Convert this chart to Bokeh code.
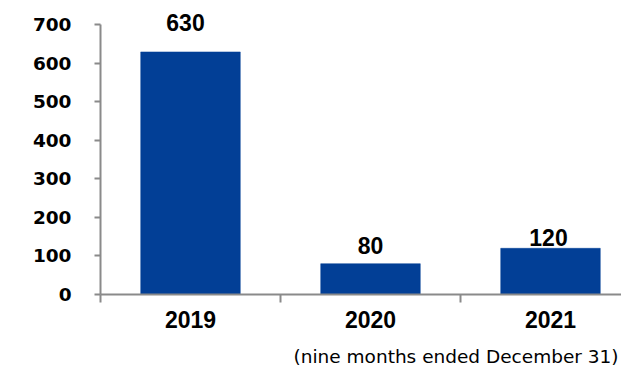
from bokeh.plotting import figure
from bokeh.models import (ColumnDataSource, Range1d, FixedTicker, LinearAxis,
                          Title)
from bokeh.core.properties import value
from bokeh.embed import file_html
from bokeh.resources import INLINE

# ---- data ----
categories = ["2019", "2020", "2021"]
amounts = [630, 80, 120]
value_labels = ["630", "80", "120"]
y_ticks = [0, 100, 200, 300, 400, 500, 600, 700]
subtitle = "(nine months ended December 31)"

# ---- style ----
BAR_COLOR = "#023f96"
AXIS_COLOR = "#8a8a8a"
label_dy = [-29, -18, -11]   # pixel nudges of value labels (style)
label_dx = [-5, 0, -2]

idx = list(range(len(categories)))
src = ColumnDataSource(dict(x=idx, top=amounts, lab=value_labels,
                            dy=label_dy, dx=label_dx))

p = figure(width=621, height=366, output_backend="svg", toolbar_location=None,
           x_range=Range1d(-0.5, -0.5 + 521 / 180), y_range=Range1d(0, 763.6),
           x_axis_location=None, y_axis_location=None, title=None,
           min_border_left=100, min_border_right=0, min_border_top=0,
           min_border_bottom=72)
p.outline_line_color = None
p.grid.visible = False
p.background_fill_color = "white"
p.border_fill_color = "white"

p.vbar(x="x", top="top", bottom=0, width=0.553, source=src,
       fill_color=BAR_COLOR, line_color=BAR_COLOR, line_width=0.5)

p.text(x="x", y="top", text="lab", source=src, x_offset="dx", y_offset="dy",
       text_align="center", text_baseline="middle",
       text_font=value("Liberation Sans"), text_font_style="bold",
       text_font_size="23px", text_color="black")

# y axis
yax = LinearAxis(ticker=FixedTicker(ticks=y_ticks), bounds=(0, 700))
yax.axis_line_color = AXIS_COLOR
yax.axis_line_width = 2
yax.major_tick_line_color = AXIS_COLOR
yax.major_tick_line_width = 2
yax.major_tick_out = 6
yax.major_tick_in = 0
yax.minor_tick_line_color = None
yax.major_label_standoff = 23
yax.major_label_text_font = "DejaVu Sans"
yax.major_label_text_font_style = "bold"
yax.major_label_text_font_size = "18.5px"
yax.major_label_text_color = "black"
p.add_layout(yax, "left")

# x axis
xax = LinearAxis(ticker=FixedTicker(ticks=idx,
                                    minor_ticks=[i - 0.5 for i in idx]))
xax.major_label_overrides = {i: c for i, c in zip(idx, categories)}
xax.axis_line_color = AXIS_COLOR
xax.axis_line_width = 2
xax.major_tick_line_color = None
xax.major_tick_out = 8
xax.major_tick_in = 0
xax.minor_tick_line_color = AXIS_COLOR
xax.minor_tick_line_width = 2
xax.minor_tick_out = 8
xax.minor_tick_in = 0
xax.major_label_standoff = 8
xax.major_label_text_font = "Liberation Sans"
xax.major_label_text_font_style = "bold"
xax.major_label_text_font_size = "23px"
xax.major_label_text_color = "black"
# invisible spacer label to push the subtitle lower
xax.axis_label = " "
xax.axis_label_text_font_size = "1px"
xax.axis_label_standoff = 9
p.add_layout(xax, "below")

p.add_layout(Title(text=subtitle, align="left", offset=193, standoff=0,
                   text_font="DejaVu Sans", text_font_style="normal",
                   text_font_size="18.5px", text_color="black"), "below")

open("out.html", "w").write(file_html(p, INLINE))
